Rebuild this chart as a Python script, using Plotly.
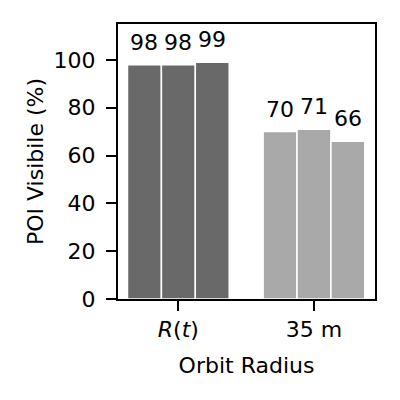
import plotly.graph_objects as go

# Categorie sull'asse x e valori per le tre serie (una barra per serie in ogni gruppo)
categories = ["<i>R</i>(<i>t</i>)", "35 m"]
series_names = ["Run 1", "Run 2", "Run 3"]
series_values = [
    [98, 70],
    [98, 71],
    [99, 66],
]
y_ticks = [0, 20, 40, 60, 80, 100]

group_colors = ["#696969", "#a9a9a9"]
FONT = "DejaVu Sans"
FS = 22
BAR_W = 0.25

fig = go.Figure()
for name, vals in zip(series_names, series_values):
    fig.add_trace(
        go.Bar(
            name=name,
            x=categories,
            y=vals,
            marker_color=group_colors,
            marker_line=dict(color="white", width=1.5),
        )
    )

# etichette sopra le barre (posizione = categoria + offset della serie)
n = len(series_values)
for j, vals in enumerate(series_values):
    for i, v in enumerate(vals):
        fig.add_annotation(
            x=i + (j - (n - 1) / 2) * BAR_W,
            y=v,
            text=f"{v:.0f}",
            showarrow=False,
            yanchor="bottom",
            yshift=8,
            font=dict(size=FS, family=FONT, color="black"),
        )

# il body della pagina ha un margine di 8px: compensato qui
fig.update_layout(
    width=400,
    height=400,
    barmode="group",
    bargap=0.25,
    bargroupgap=0,
    showlegend=False,
    plot_bgcolor="white",
    paper_bgcolor="white",
    margin=dict(l=110, r=33, t=16, b=109),
    font=dict(family=FONT, size=FS, color="black"),
)
axis_style = dict(
    showline=True,
    linecolor="black",
    linewidth=2,
    mirror=True,
    ticks="outside",
    ticklen=10,
    tickwidth=2,
    tickcolor="black",
    showgrid=False,
    tickfont=dict(size=FS),
)
fig.update_xaxes(
    range=[-0.445, 1.45],
    ticklabelstandoff=0,
    title=dict(text="Orbit Radius", standoff=16, font=dict(size=FS)),
    **axis_style,
)
fig.update_yaxes(
    range=[0, 115],
    tickvals=y_ticks,
    zeroline=False,
    ticklabelstandoff=6,
    title=dict(text="POI Visibile (%)", standoff=4, font=dict(size=FS)),
    **axis_style,
)

fig.write_html("out.html")
